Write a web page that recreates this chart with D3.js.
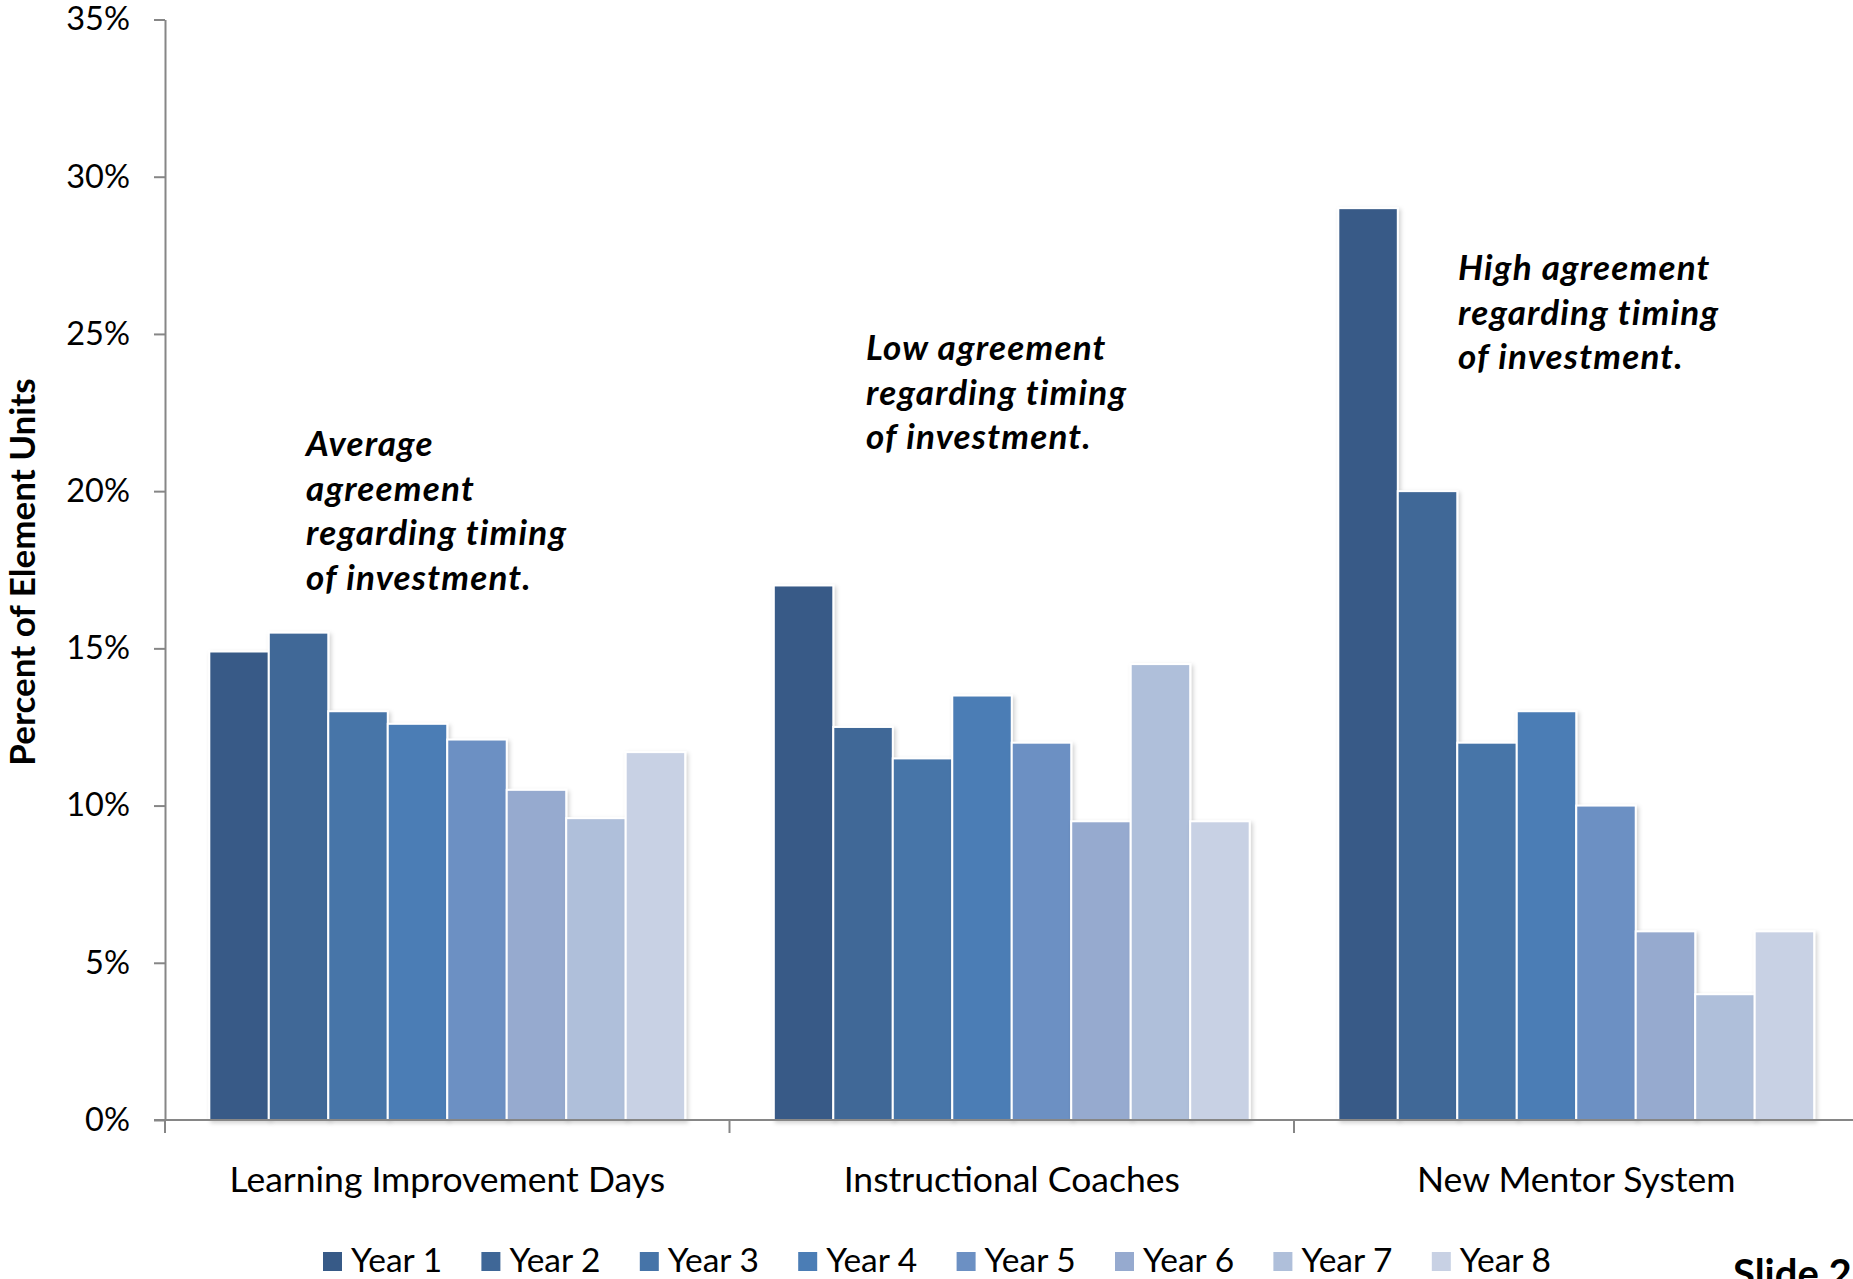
<!DOCTYPE html>
<html>
<head>
<meta charset="utf-8">
<script src="https://cdn.jsdelivr.net/npm/d3@7"></script>
<style>
  html, body { margin: 0; padding: 0; background: #fff; overflow: hidden; }
  svg { display: block; }
  svg text { font-family: Lato, "Open Sans", sans-serif; fill: #000; }
</style>
</head>
<body>
<svg id="chart" width="1853" height="1279"></svg>
<script>
// ---- data ----
const categories = ["Learning Improvement Days", "Instructional Coaches", "New Mentor System"];
const years = ["Year 1", "Year 2", "Year 3", "Year 4", "Year 5", "Year 6", "Year 7", "Year 8"];
const learningImprovementDays = [0.149, 0.155, 0.130, 0.126, 0.121, 0.105, 0.096, 0.117];
const instructionalCoaches   = [0.170, 0.125, 0.115, 0.135, 0.120, 0.095, 0.145, 0.095];
const newMentorSystem        = [0.290, 0.200, 0.120, 0.130, 0.100, 0.060, 0.040, 0.060];
const seriesByCategory = [learningImprovementDays, instructionalCoaches, newMentorSystem];
const yTicks = [0, 0.05, 0.10, 0.15, 0.20, 0.25, 0.30, 0.35];
const yearColors = ["#375A87", "#3F6797", "#4674A8", "#4B7DB5", "#6C90C3", "#96AACF", "#AFBFDA", "#C8D1E4"];
const annotations = [
  ["Average", "agreement", "regarding timing", "of investment."],
  ["Low agreement", "regarding timing", "of investment."],
  ["High agreement", "regarding timing", "of investment."]
];
const yTitle = "Percent of Element Units";
const slideLabel = "Slide 21";

// ---- layout ----
const svg = d3.select("#chart");
const axisColor = "#868686";
const plotLeft = 165, plotRight = 1858.5, plotTop = 19.5, plotBottom = 1120;

const y = d3.scaleLinear().domain([0, 0.35]).range([plotBottom, plotTop]);
const x0 = d3.scaleBand().domain(categories).range([plotLeft, plotRight])
  .paddingInner(0.157).paddingOuter(0.0785);
const x1 = d3.scaleBand().domain(years).range([0, x0.bandwidth()]);
const color = d3.scaleOrdinal().domain(years).range(yearColors);

const defs = svg.append("defs");
const f = defs.append("filter").attr("id", "shadow")
  .attr("x", "-10%").attr("y", "-10%").attr("width", "130%").attr("height", "130%");
f.append("feDropShadow").attr("dx", 2).attr("dy", 2).attr("stdDeviation", 2)
  .attr("flood-color", "#000").attr("flood-opacity", 0.18);

// bars
const groups = svg.append("g").selectAll("g")
  .data(categories)
  .join("g")
  .attr("transform", d => `translate(${x0(d)},0)`);

groups.selectAll("rect")
  .data((c, i) => years.map((yr, j) => ({ yr, v: seriesByCategory[i][j] })))
  .join("rect")
  .attr("x", d => x1(d.yr))
  .attr("y", d => y(d.v))
  .attr("width", x1.bandwidth())
  .attr("height", d => y(0) - y(d.v))
  .attr("fill", d => color(d.yr))
  .attr("stroke", "#fff")
  .attr("stroke-width", 2)
  .attr("filter", "url(#shadow)");

// y axis
const yAxis = svg.append("g")
  .attr("transform", `translate(${plotLeft},0)`)
  .call(d3.axisLeft(y).tickValues(yTicks).tickFormat(d3.format(".0%"))
    .tickSize(11).tickSizeOuter(0).tickPadding(24));
yAxis.attr("font-family", null).attr("font-size", null);
yAxis.select(".domain").attr("stroke", axisColor).attr("stroke-width", 2);
yAxis.selectAll(".tick line").attr("stroke", axisColor).attr("stroke-width", 2);
yAxis.selectAll(".tick text").attr("font-size", 32.5);

// x axis
const xAxis = svg.append("g")
  .attr("transform", `translate(0,${plotBottom})`)
  .call(d3.axisBottom(x0).tickSize(0).tickPadding(47));
xAxis.attr("font-family", null).attr("font-size", null);
xAxis.select(".domain").remove();
xAxis.selectAll(".tick text").attr("font-size", 35.5);
svg.append("line")
  .attr("x1", plotLeft - 11).attr("x2", 1853)
  .attr("y1", plotBottom).attr("y2", plotBottom)
  .attr("stroke", axisColor).attr("stroke-width", 2);
const boundaries = categories.map(c => x0(c) - (x0.step() - x0.bandwidth()) / 2);
svg.append("g").selectAll("line")
  .data(boundaries)
  .join("line")
  .attr("x1", d => d).attr("x2", d => d)
  .attr("y1", plotBottom).attr("y2", plotBottom + 13)
  .attr("stroke", axisColor).attr("stroke-width", 2);

// y title
svg.append("text")
  .attr("transform", `translate(35,572) rotate(-90)`)
  .attr("text-anchor", "middle")
  .attr("font-size", 35)
  .attr("font-weight", "bold")
  .text(yTitle);

// annotations
const annPos = [
  { x: 306, y: 456 },
  { x: 866, y: 360 },
  { x: 1458, y: 280 }
];
annotations.forEach((lines, i) => {
  const t = svg.append("text")
    .attr("x", annPos[i].x).attr("y", annPos[i].y)
    .attr("font-size", 35).attr("font-weight", "bold").attr("font-style", "italic")
    .attr("letter-spacing", 1.2);
  lines.forEach((ln, k) => {
    t.append("tspan").attr("x", annPos[i].x).attr("dy", k === 0 ? 0 : 44.5).text(ln);
  });
});

// legend
const legend = svg.append("g").selectAll("g")
  .data(years)
  .join("g")
  .attr("transform", (d, i) => `translate(${323 + i * 158.4},1252)`);
legend.append("rect")
  .attr("width", 19).attr("height", 19)
  .attr("fill", d => color(d));
legend.append("text")
  .attr("x", 28).attr("y", 20)
  .attr("font-size", 33.5)
  .text(d => d);

// slide label
svg.append("text")
  .attr("x", 1733).attr("y", 1288)
  .attr("font-size", 40).attr("font-weight", "bold")
  .text(slideLabel);
</script>
</body>
</html>
